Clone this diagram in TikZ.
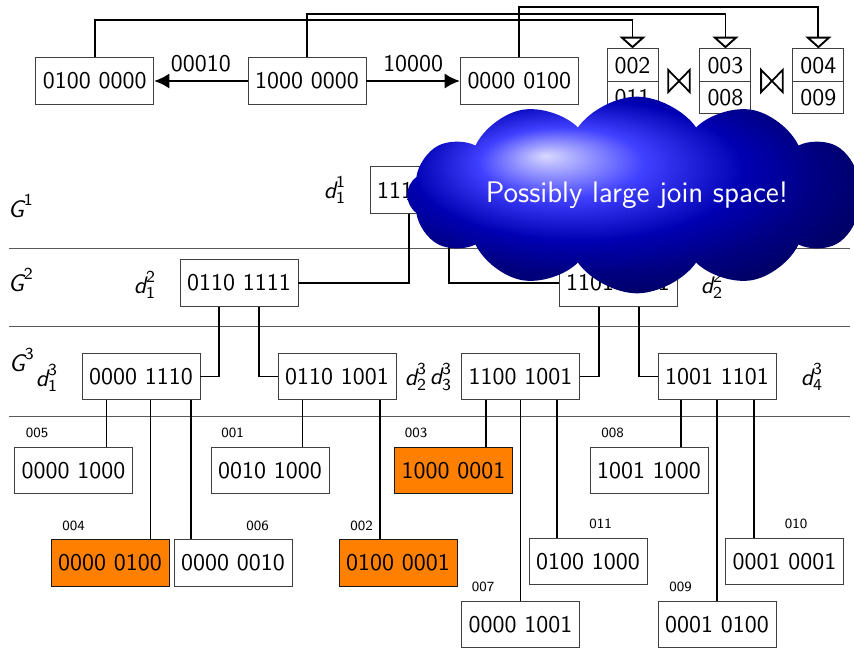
\documentclass[tikz,border=0pt]{standalone}
\usepackage{amsmath}
\usepackage{tikz}
\usetikzlibrary{positioning, calc, arrows.meta, shapes.multipart, shapes.symbols}
\renewcommand{\familydefault}{\sfdefault}
\newcommand{\lvl}[1]{$\textit{G}^{\textsf{#1}}$}
\newcommand{\dlab}[2]{$\textit{d}^{\textsf{#2}}_{\textsf{#1}}$}

\begin{document}
\begin{tikzpicture}[
    x=0.15mm, y=-0.15mm,
    node distance=14mm,
    font=\fontsize{10.2}{12}\selectfont,
    bits/.style={rectangle, draw=black!75, fill=white, minimum width=17.7mm, minimum height=7mm, inner sep=0pt},
    hit/.style={bits, fill=orange, draw=black!90},
    pair/.style={rectangle split, rectangle split parts=2, draw=black!75, fill=white, minimum width=7.65mm, inner xsep=0pt, inner ysep=3pt, text height=7.5pt, text depth=0pt},
    idx/.style={font=\fontsize{6}{7}\selectfont, inner sep=0pt},
    joinsym/.style={minimum width=3.1mm, minimum height=3.2mm, inner sep=0pt},
    tie/.style={line width=0.75pt, line join=miter},
    sep/.style={draw=black!65},
    link/.style={thick},
    arrow/.style={-{Latex[length=6.5pt,width=6.5pt]}, thick},
    joinarrow/.style={-{Triangle[open,length=5pt,width=11pt]}, thick}
]
    \useasboundingbox (0,0) rectangle (854,647);

    % level separators
    \draw[sep] (9,248) -- (850,248);
    \draw[sep] (9,326) -- (850,326);
    \draw[sep] (9,416) -- (850,416);

    % query and its neighbours
    \node[bits] (src) at (307,81) {1000 0000};
    \node[bits, left=of src] (lft) {0100 0000};
    \node[bits, right=of src] (rgt) {0000 0100};
    \draw[arrow] (src) -- node[above] (f1) {00010} (lft);
    \draw[arrow] (src) -- node[above] (f2) {10000} (rgt);

    % candidate lists
    \node[pair] (p1) at (632.5,81) {002 \nodepart{two} 011};
    \node[pair, right=6.15mm of p1] (p2) {003 \nodepart{two} 008};
    \node[pair, right=6.15mm of p2] (p3) {004 \nodepart{two} 009};
    \node[joinsym] (j1) at ($(p1.east)!.5!(p2.west)$) {};
    \node[joinsym] (j2) at ($(p2.east)!.5!(p3.west)$) {};
    \draw[tie] (j1.north west) -- (j1.south east) -- (j1.north east) -- (j1.south west) -- cycle;
    \draw[tie] (j2.north west) -- (j2.south east) -- (j2.north east) -- (j2.south west) -- cycle;
    \draw[joinarrow] (lft.north) -- ++(0,-37) -| (p1.north);
    \draw[joinarrow] (src.north) -- ++(0,-43) -| (p2.north);
    \draw[joinarrow] (rgt.north) -- ++(0,-50) -| (p3.north);

    % level names
    \node (lv1) at (21,206) {\lvl{1}};
    \node (lv2) at (21,280) {\lvl{2}};
    \node (lv3) at (22,360) {\lvl{3}};

    % inner nodes
    \node[bits] (g1) at (429,190) {1111 1111};
    \node[bits] (g2a) at (239,283) {0110 1111};
    \node[bits] (g2b) at (618,283) {1101 1101};
    \node[bits] (g3a) at (141,376.5) {0000 1110};
    \node[bits] (g3b) at (337,376.5) {0110 1001};
    \node[bits] (g3c) at (520.5,376.5) {1100 1001};
    \node[bits] (g3d) at (717,376.5) {1001 1101};

    \node (d11) at (335,190) {\dlab{1}{1}};
    \node (d12) at (145,285) {\dlab{1}{2}};
    \node (d22) at (712,285) {\dlab{2}{2}};
    \node (d13) at (47,378) {\dlab{1}{3}};
    \node (d23) at (416,377) {\dlab{2}{3}};
    \node (d33) at (441,377) {\dlab{3}{3}};
    \node (d43) at (812,377) {\dlab{4}{3}};

    % leaves
    \node[bits] (e005) at (73.5,470.5) {0000 1000};
    \node[bits] (e001) at (270,470.5) {0010 1000};
    \node[hit] (e003) at (453.5,470.5) {1000 0001};
    \node[bits] (e008) at (649,470.5) {1001 1000};
    \node[hit] (e004) at (110,563) {0000 0100};
    \node[bits] (e006) at (233,563) {0000 0010};
    \node[hit] (e002) at (398,563) {0100 0001};
    \node[bits] (e011) at (588,561.5) {0100 1000};
    \node[bits] (e010) at (784.5,561.5) {0001 0001};
    \node[bits] (e007) at (520.5,624.5) {0000 1001};
    \node[bits] (e009) at (717,624.5) {0001 0100};

    \node[idx] (i005) at ($(e005.north west)+(23,-13.5)$) {005};
    \node[idx] (i001) at ($(e001.north west)+(22,-13.5)$) {001};
    \node[idx] (i003) at ($(e003.north west)+(22,-13.5)$) {003};
    \node[idx] (i008) at ($(e008.north west)+(23,-13.5)$) {008};
    \node[idx] (i004) at ($(e004.north west)+(23,-13.5)$) {004};
    \node[idx] (i006) at ($(e006.north west)+(84,-13.5)$) {006};
    \node[idx] (i002) at ($(e002.north west)+(23,-13.5)$) {002};
    \node[idx] (i011) at ($(e011.north west)+(72,-13.5)$) {011};
    \node[idx] (i010) at ($(e010.north west)+(71,-13.5)$) {010};
    \node[idx] (i007) at ($(e007.north west)+(22,-13.5)$) {007};
    \node[idx] (i009) at ($(e009.north west)+(23,-13.5)$) {009};

    % tree edges
    \draw[link] ($(g1.south west)!.33!(g1.south east)$) |- (g2a.east);
    \draw[link] ($(g1.south west)!.67!(g1.south east)$) |- (g2b.west);
    \draw[link] ($(g2a.south west)!.33!(g2a.south east)$) |- (g3a.east);
    \draw[link] ($(g2a.south west)!.67!(g2a.south east)$) |- (g3b.west);
    \draw[link] ($(g2b.south west)!.34!(g2b.south east)$) |- (g3c.east);
    \draw[link] ($(g2b.south west)!.68!(g2b.south east)$) |- (g3d.west);

    \draw[link] ($(g3a.south west)!.21!(g3a.south east)$) coordinate (t) -- (t |- e005.north);
    \draw[link] ($(g3a.south west)!.58!(g3a.south east)$) coordinate (t) -- (t |- e004.north);
    \draw[link] ($(g3a.south west)!.92!(g3a.south east)$) coordinate (t) -- (t |- e006.north);
    \draw[link] ($(g3b.south west)!.21!(g3b.south east)$) coordinate (t) -- (t |- e001.north);
    \draw[link] ($(g3b.south west)!.86!(g3b.south east)$) coordinate (t) -- (t |- e002.north);
    \draw[link] ($(g3c.south west)!.21!(g3c.south east)$) coordinate (t) -- (t |- e003.north);
    \draw[link] ($(g3c.south west)!.50!(g3c.south east)$) coordinate (t) -- (t |- e007.north);
    \draw[link] ($(g3c.south west)!.81!(g3c.south east)$) coordinate (t) -- (t |- e011.north);
    \draw[link] ($(g3d.south west)!.20!(g3d.south east)$) coordinate (t) -- (t |- e008.north);
    \draw[link] ($(g3d.south west)!.50!(g3d.south east)$) coordinate (t) -- (t |- e009.north);
    \draw[link] ($(g3d.south west)!.81!(g3d.south east)$) coordinate (t) -- (t |- e010.north);

    % warning
    \node[cloud, cloud puffs=12, cloud puff arc=110, cloud ignores aspect, inner sep=0pt, minimum width=69mm, minimum height=29.5mm, shading=ball, ball color=blue, text=white, font=\fontsize{12.7}{15}\selectfont] (note) at (637,195) {Possibly large join space!};
\end{tikzpicture}
\end{document}
